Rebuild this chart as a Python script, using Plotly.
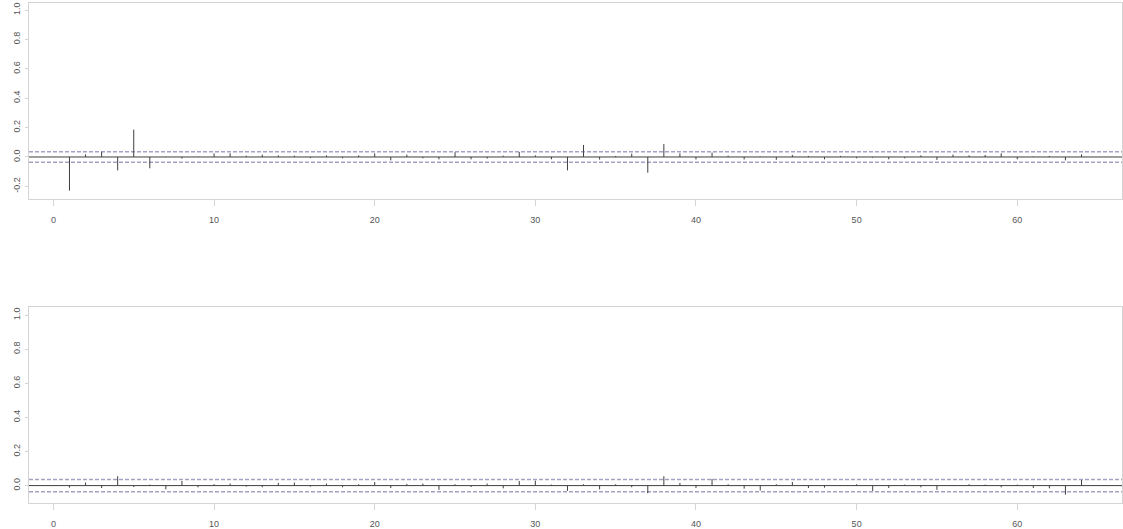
import plotly.graph_objects as go

# Residual autocorrelations, lags 1..64
lags = list(range(1, 65))

acf_top = [
    -0.229, 0.018, 0.036, -0.091, 0.186, -0.077, 0.002, -0.011, 0.002, 0.025,
    0.025, 0.009, 0.016, 0.011, 0.009, -0.007, 0.011, -0.009, 0.011, 0.025,
    -0.023, 0.016, -0.009, -0.016, 0.032, -0.016, -0.011, 0.009, 0.034, 0.011,
    -0.016, -0.091, 0.082, -0.018, 0.007, 0.023, -0.107, 0.088, 0.025, -0.017,
    0.030, 0.009, -0.017, 0.003, -0.019, 0.014, 0.007, -0.016, 0.007, -0.009,
    -0.005, -0.016, -0.009, 0.011, -0.020, 0.016, 0.011, 0.014, 0.025, -0.016,
    0.003, 0.007, -0.023, 0.018,
]

acf_bottom = [
    -0.012, 0.018, -0.014, 0.055, -0.008, 0.006, -0.022, 0.027, -0.010, 0.008,
    0.012, -0.006, -0.010, 0.016, 0.018, -0.006, 0.012, -0.010, 0.008, 0.021,
    -0.014, 0.010, 0.012, -0.025, 0.008, -0.008, 0.012, -0.016, 0.027, 0.029,
    0.006, -0.031, 0.008, -0.022, 0.008, -0.010, -0.045, 0.055, 0.016, -0.014,
    0.039, 0.008, -0.018, -0.029, 0.008, 0.021, -0.014, -0.012, 0.003, 0.008,
    -0.031, -0.014, 0.006, -0.010, -0.025, 0.002, 0.008, 0.006, -0.010, 0.006,
    -0.014, -0.016, -0.053, 0.033,
]

conf_limit = 0.036

x_ticks = [0, 10, 20, 30, 40, 50, 60]
y_ticks_top = [-0.2, 0.0, 0.2, 0.4, 0.6, 0.8, 1.0]
y_ticks_bottom = [0.0, 0.2, 0.4, 0.6, 0.8, 1.0]

x_range = [-1.52, 66.52]
y_range_top = [-0.286, 1.048]
y_range_bottom = [-0.102, 1.047]

BAR = "#3f3f3f"
BOX = "#d4d4d4"
CI = "#a2a2c6"
TXT = "#555555"

W, H = 1123, 529


def spikes(xs, ys):
    px, py = [], []
    for x, y in zip(xs, ys):
        px += [x, x, None]
        py += [0, y, None]
    return px, py


def fmt(v):
    return f"{v:.1f}"


fig = go.Figure()

panels = [
    (acf_top, "x", "y"),
    (acf_bottom, "x2", "y2"),
]

for values, xa, ya in panels:
    # zero line and confidence limits across the whole plotting range
    fig.add_trace(go.Scatter(x=x_range, y=[0, 0], mode="lines",
                             line=dict(color=BAR, width=1),
                             xaxis=xa, yaxis=ya, hoverinfo="skip"))
    for lim in (conf_limit, -conf_limit):
        fig.add_trace(go.Scatter(x=x_range, y=[lim, lim], mode="lines",
                                 line=dict(color=CI, width=1.6, dash="4px,2px"),
                                 xaxis=xa, yaxis=ya, hoverinfo="skip"))
    sx, sy = spikes(lags, values)
    fig.add_trace(go.Scatter(x=sx, y=sy, mode="lines",
                             line=dict(color=BAR, width=1),
                             xaxis=xa, yaxis=ya))

font = dict(family="Liberation Sans, Arial, sans-serif", size=9, color=TXT)

axis_common = dict(
    showgrid=False, zeroline=False, showline=True, mirror=True,
    linecolor=BOX, linewidth=1, tickcolor=BOX, tickwidth=1, tickfont=font,
)

top_dom = [(H - 199) / H, (H - 3) / H]
bot_dom = [(H - 503) / H, (H - 307) / H]
x_dom = [29 / W, 1122 / W]

xaxis_style = dict(range=x_range, tickvals=x_ticks,
                   ticktext=[str(v) for v in x_ticks],
                   ticks="outside", ticklen=6, ticklabelstandoff=6,
                   domain=x_dom, **axis_common)
yaxis_style = dict(tickangle=-90, ticks="outside", ticklen=3,
                   ticklabelstandoff=1, **axis_common)

fig.update_layout(
    width=W, height=H,
    margin=dict(l=0, r=0, t=0, b=0),
    paper_bgcolor="white", plot_bgcolor="white",
    showlegend=False,
    xaxis=dict(anchor="y", **xaxis_style),
    yaxis=dict(domain=top_dom, range=y_range_top, anchor="x",
               tickvals=y_ticks_top, ticktext=[fmt(v) for v in y_ticks_top],
               **yaxis_style),
    xaxis2=dict(anchor="y2", **xaxis_style),
    yaxis2=dict(domain=bot_dom, range=y_range_bottom, anchor="x2",
                tickvals=y_ticks_bottom, ticktext=[fmt(v) for v in y_ticks_bottom],
                **yaxis_style),
)

fig.write_html("out.html")
